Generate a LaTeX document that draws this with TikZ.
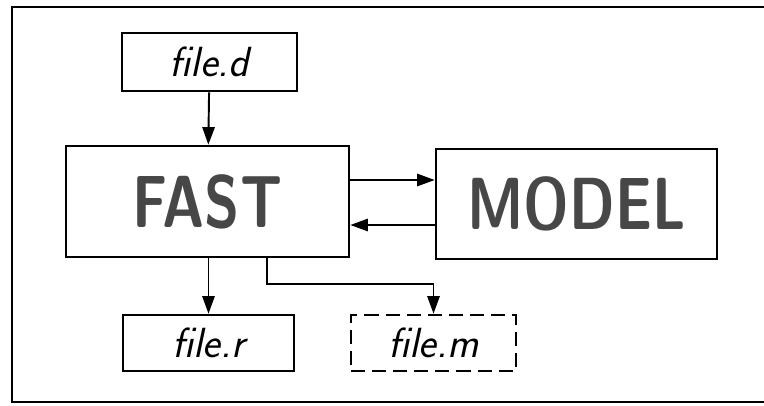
\documentclass[tikz,border=0pt]{standalone}
\usepackage{graphicx}
\usetikzlibrary{arrows.meta}

\newcommand{\bigword}[1]{\scalebox{0.78}[1]{\fontsize{42}{42}\selectfont\sffamily\bfseries #1}}
\newcommand{\fname}[1]{\fontsize{24}{24}\selectfont\sffamily\itshape #1}

\begin{document}
\begin{tikzpicture}[box/.style={rectangle, draw, line width=1.5pt, inner sep=0pt},
    dbox/.style={box, dash pattern=on 8pt off 4pt},
    arr/.style={line width=1.1pt, -{Triangle[length=10pt, width=7pt]}}]
    \useasboundingbox (0,0) rectangle (15.28,8.1);

    % frame
    \draw[line width=1.6pt] (15.28,7.96) -- (0.24,7.96) -- (0.24,0.06) -- (15.28,0.06);

    % files and programs
    \node (filed) at (4.19,6.86) [box, minimum width=3.5cm, minimum height=1.16cm] {\fname{file.d}};
    \node (fast) at (4.15,4.07) [box, minimum width=5.66cm, minimum height=2.22cm] {\textcolor{black!72}{\bigword{FAST}}};
    \node (model) at (11.53,4.02) [box, minimum width=5.62cm, minimum height=2.2cm] {\textcolor{black!72}{\bigword{MODEL}}};
    \node (filer) at (4.17,1.24) [box, minimum width=3.42cm, minimum height=1.12cm] {\fname{file.r}};
    \node (filem) at (8.67,1.24) [dbox, minimum width=3.3cm, minimum height=1.12cm] {\fname{file.m}};

    % data flow
    \draw[arr] (filed) -- (fast);
    \draw[arr] (fast.east |- 0,4.5) -- (model.west |- 0,4.5);
    \draw[arr] (model.west |- 0,3.6) -- (fast.east |- 0,3.6);
    \draw[arr] (fast.south -| filer) -- (filer);
    \draw[arr] ([xshift=1.19cm]fast.south) -- ++(0,-0.52) -| (filem.north);
\end{tikzpicture}
\end{document}
